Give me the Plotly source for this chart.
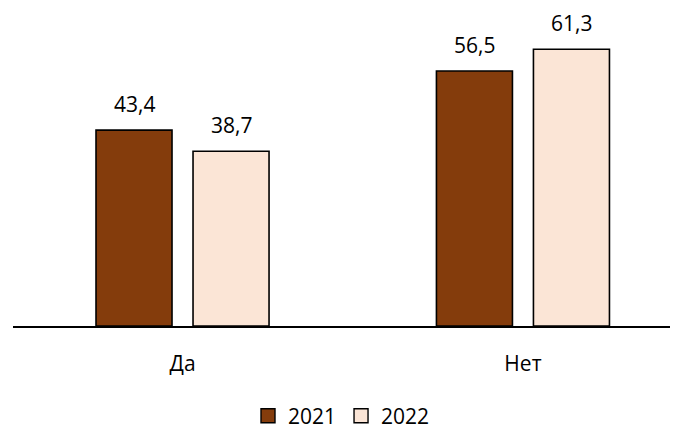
import plotly.graph_objects as go

categories = ["Да", "Нет"]
series_names = ["2021", "2022"]
values_2021 = [43.4, 56.5]
values_2022 = [38.7, 61.3]
colors = ["#843C0C", "#FBE5D6"]

FONT = "Open Sans, Liberation Sans, sans-serif"

fig = go.Figure()
for name, vals, col in zip(series_names, [values_2021, values_2022], colors):
    fig.add_trace(go.Bar(
        x=list(range(len(categories))), y=vals, name=name, showlegend=False,
        marker=dict(color=col, line=dict(color="#000000", width=1.6)),
    ))
    # legend key: a square swatch with a dark outline
    fig.add_trace(go.Scatter(
        x=[None], y=[None], mode="markers", name=name, showlegend=True,
        marker=dict(symbol="square", size=14, color=col,
                    line=dict(color="#000000", width=1.4)),
    ))

# value labels above each bar (bar centres sit half a slot either side of the category)
bargap, bargroupgap = 0.43, 0.2165
slot = (1 - bargap) / 2
for k, vals in enumerate([values_2021, values_2022]):
    off = (k - 0.5) * slot
    for i, v in enumerate(vals):
        fig.add_annotation(
            x=i + off, y=v, text=f"{v:.1f}".replace(".", ","),
            showarrow=False, yanchor="bottom", yshift=10,
            font=dict(family=FONT, size=21, color="#000000"),
        )

fig.update_layout(
    width=683, height=430,
    margin=dict(l=13, r=13, t=10, b=104, autoexpand=False),
    paper_bgcolor="white", plot_bgcolor="white",
    barmode="group", bargap=bargap, bargroupgap=bargroupgap,
    showlegend=True,
    legend=dict(orientation="h", x=0.5, xanchor="center", y=-0.285, yanchor="middle",
                font=dict(family=FONT, size=21, color="#000000"),
                itemwidth=30, traceorder="normal", itemsizing="trace"),
    font=dict(family=FONT, size=21, color="#000000"),
)
fig.update_xaxes(
    range=[-0.498, 1.432], tickvals=list(range(len(categories))), ticktext=categories,
    showline=True, linecolor="#000000", linewidth=1.6, showgrid=False, zeroline=False,
    ticks="", ticklabelstandoff=18, tickfont=dict(family=FONT, size=21, color="#000000"),
)
fig.update_yaxes(range=[0, 70], visible=False, showgrid=False, zeroline=False)

fig.write_html("out.html")
